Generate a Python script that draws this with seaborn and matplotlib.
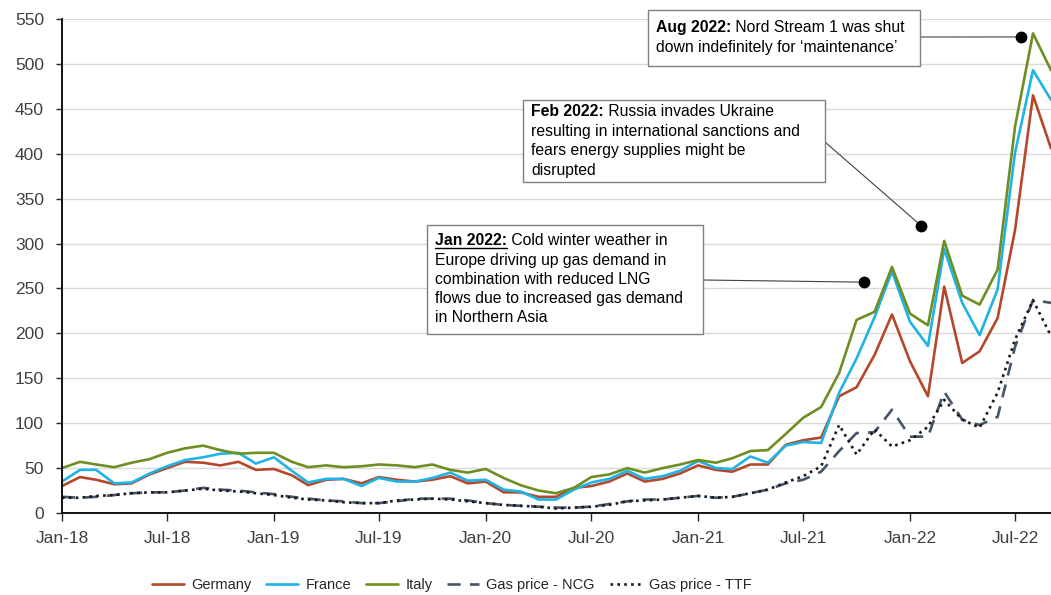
import pandas as pd
import matplotlib.pyplot as plt
import matplotlib.dates as mdates
from matplotlib.patches import Rectangle
from matplotlib.lines import Line2D
import seaborn as sns

# monthly values, Jan-18 .. Sep-22
months = pd.date_range("2018-01-01", periods=57, freq="MS")

germany = [30, 40, 37, 32, 33, 43, 50, 57, 56, 53, 57, 48,
           49, 42, 31, 37, 38, 33, 40, 37, 35, 37, 41, 33,
           35, 23, 23, 18, 18, 28, 30, 35, 44, 35, 38, 44,
           53, 48, 46, 54, 54, 76, 81, 84, 130, 140, 176, 221,
           169, 130, 252, 167, 180, 217, 315, 465, 406]
france = [35, 48, 48, 33, 34, 44, 52, 59, 62, 66, 67, 55,
          62, 47, 34, 38, 38, 30, 39, 35, 35, 39, 45, 36,
          37, 26, 24, 15, 15, 26, 34, 38, 47, 38, 41, 47,
          58, 50, 49, 63, 56, 75, 79, 78, 134, 172, 218, 269,
          213, 186, 294, 234, 198, 249, 401, 493, 460]
italy = [50, 57, 54, 51, 56, 60, 67, 72, 75, 70, 66, 67,
         67, 57, 51, 53, 51, 52, 54, 53, 51, 54, 48, 45,
         49, 39, 31, 25, 22, 28, 40, 43, 50, 45, 50, 54,
         59, 56, 61, 69, 70, 88, 106, 118, 156, 215, 224, 274,
         222, 209, 303, 242, 232, 271, 430, 534, 493]
gas_ncg = [18, 17, 18, 20, 22, 23, 23, 25, 28, 26, 25, 23,
           21, 18, 16, 14, 13, 11, 11, 13, 16, 16, 16, 14,
           11, 9, 8, 7, 6, 6, 7, 10, 13, 15, 15, 17,
           19, 17, 18, 22, 26, 33, 37, 46, 69, 89, 90, 115,
           85, 85, 135, 104, 98, 107, 185, 237, 234]
gas_ttf = [17, 17, 19, 20, 22, 23, 23, 25, 27, 25, 24, 22,
           20, 17, 15, 14, 12, 11, 11, 14, 15, 16, 15, 13,
           11, 9, 8, 7, 5, 6, 7, 9, 13, 14, 15, 17,
           19, 17, 18, 22, 26, 34, 41, 52, 98, 65, 93, 74,
           81, 96, 126, 104, 95, 134, 193, 237, 197]

series_names = ["Germany", "France", "Italy", "Gas price - NCG", "Gas price - TTF"]
colors = ["#B5472A", "#1EB4E6", "#6E8E23", "#44546A", "#1A1A1A"]

df = pd.DataFrame({"month": months, "Germany": germany, "France": france,
                   "Italy": italy, "Gas price - NCG": gas_ncg,
                   "Gas price - TTF": gas_ttf})
long = df.melt(id_vars="month", var_name="series", value_name="price")

# annotations: text, anchor date, anchor value
notes_bold = ["Jan 2022:", "Feb 2022:", "Aug 2022:"]
notes_lines = [
    [" Cold winter weather in", "Europe driving up gas demand in",
     "combination with reduced LNG", "flows due to increased gas demand",
     "in Northern Asia"],
    [" Russia invades Ukraine", "resulting in international sanctions and",
     "fears energy supplies might be", "disrupted"],
    [" Nord Stream 1 was shut", "down indefinitely for \u2018maintenance\u2019"],
]
note_dates = pd.to_datetime(["2021-10-14", "2022-01-20", "2022-07-11"])
note_values = [257, 320, 530]

sns.set_theme(style="white")
plt.rcParams["font.family"] = ["Liberation Sans", "DejaVu Sans"]

W, H = 1051, 595
fig = plt.figure(figsize=(W / 100, H / 100), dpi=100)
ax = fig.add_axes([62 / W, 1 - 513 / H, 1 - 62 / W, (513 - 19) / H])

sns.lineplot(data=long, x="month", y="price", hue="series", style="series",
             hue_order=series_names, style_order=series_names,
             palette=dict(zip(series_names, colors)),
             dashes={"Germany": "", "France": "", "Italy": "",
                     "Gas price - NCG": (5, 3.5), "Gas price - TTF": (1, 1.6)},
             linewidth=1.9, ax=ax)

ax.set_ylim(0, 550)
ax.set_yticks(range(0, 551, 50))
ax.set_xlim(pd.Timestamp("2018-01-01"), pd.Timestamp("2022-09-01"))
ax.set_xticks(pd.date_range("2018-01-01", "2022-07-01", freq="6MS"))
ax.xaxis.set_major_formatter(mdates.DateFormatter("%b-%y"))
ax.set_xlabel("")
ax.set_ylabel("")
ax.grid(axis="y", color="#D9D9D9", lw=1)
ax.set_axisbelow(True)
for s in ["top", "right"]:
    ax.spines[s].set_visible(False)
for s in ["left", "bottom"]:
    ax.spines[s].set_color("black")
    ax.spines[s].set_linewidth(1.3)
ax.tick_params(axis="y", left=True, length=4, width=1, pad=9,
               labelsize=12.5, labelcolor="#404040")
ax.tick_params(axis="x", bottom=True, length=6, width=1, pad=7,
               labelsize=12.5, labelcolor="#404040")

handles, labels = ax.get_legend_handles_labels()
ax.get_legend().remove()
fig.legend(handles, labels, loc="center", bbox_to_anchor=(0.43, 1 - 585 / H),
           ncol=5, frameon=False, fontsize=10.5, handlelength=2.2,
           handletextpad=0.5, columnspacing=1.0)

# annotation boxes (pixel layout); line_y are text baselines
boxes = [(427, 225, 703, 334), (523, 100, 825, 182), (648, 10, 920, 66)]
line_y = [[245, 265, 284, 303, 322], [116, 136, 155, 175], [32, 52]]
link_from = [(703, 280), (825, 142), (920, 37)]
note_size = 11.3


def fx(px):
    return px / W


def fy(py):
    return 1 - py / H


bold_texts = []
for k in range(3):
    x0, y0, x1, y1 = boxes[k]
    fig.add_artist(Rectangle((fx(x0), fy(y1)), fx(x1 - x0), (y1 - y0) / H,
                             transform=fig.transFigure, facecolor="white",
                             edgecolor="#7F7F7F", lw=1, zorder=5))
    bold = fig.text(fx(x0 + 8), fy(line_y[k][0]), notes_bold[k],
                    fontsize=note_size, fontweight="bold", color="black",
                    va="baseline", ha="left", zorder=6)
    bold_texts.append(bold)
    for j in range(1, len(notes_lines[k])):
        fig.text(fx(x0 + 8), fy(line_y[k][j]), notes_lines[k][j],
                 fontsize=note_size, color="black", va="baseline", ha="left",
                 zorder=6)
    ax.annotate("", xy=(note_dates[k], note_values[k]), xycoords="data",
                xytext=(fx(link_from[k][0]), fy(link_from[k][1])),
                textcoords="figure fraction",
                arrowprops=dict(arrowstyle="-", color="#404040", lw=0.8,
                                shrinkA=0, shrinkB=0))
    ax.plot([note_dates[k]], [note_values[k]], "o", color="black",
            markersize=7.5, zorder=7, clip_on=False)

# rest of the first line goes right after the bold lead-in
fig.canvas.draw()
renderer = fig.canvas.get_renderer()
for k in range(3):
    bb = bold_texts[k].get_window_extent(renderer).transformed(
        fig.transFigure.inverted())
    fig.text(bb.x1, fy(line_y[k][0]), notes_lines[k][0], fontsize=note_size,
             color="black", va="baseline", ha="left", zorder=6)
    if k == 0:
        yl = fy(line_y[k][0] + 2.5)
        fig.add_artist(Line2D([bb.x0, bb.x1], [yl, yl],
                              transform=fig.transFigure, color="black", lw=1,
                              zorder=6))

fig.savefig("out.png", dpi=100)
